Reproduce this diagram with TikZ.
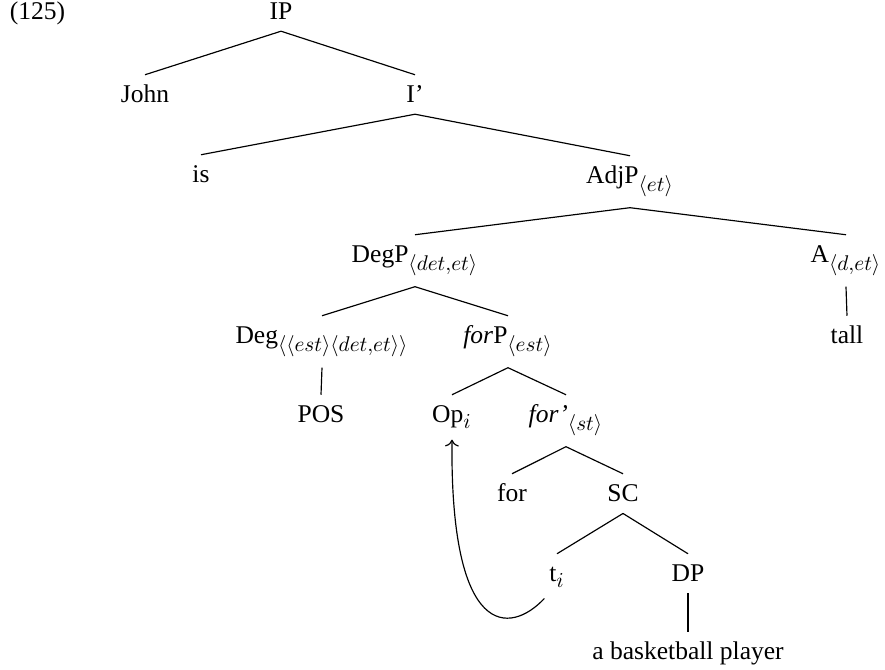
\documentclass[12pt,tikz,border=0pt]{standalone}
\usepackage{fontspec}
\setmainfont{LiberationSerif}[Extension=.ttf, UprightFont=*-Regular, ItalicFont=*-Italic, BoldFont=*-Bold]
\DeclareMathSizes{12}{12}{10}{7}
\usetikzlibrary{arrows.meta}

\begin{document}
\begin{tikzpicture}[x=0.47pt, y=-0.47pt, every node/.style={anchor=base, text height=8pt, inner ysep=5pt, inner xsep=2pt}, every path/.style={line width=0.55pt}]
    \useasboundingbox (0,0) rectangle (885,670);

    \node[anchor=base west] (num) at (5,20) {(125)};

    \node (IP) at (281,20) {IP};
    \node (John) at (145,103) {John};
    \node (Ibar) at (415,103) {I'};

    \node (is) at (201,183) {is};
    \node (AdjP) at (630,184) {AdjP$_{\langle et\rangle}$};

    \node (DegP) at (415,263) {DegP$_{\langle det,et\rangle}$};
    \node (A) at (846,263) {A$_{\langle d,et\rangle}$};

    \node (Deg) at (322,344) {Deg$_{\langle\langle est\rangle\langle det,et\rangle\rangle}$};
    \node (forP) at (508,344) {\textit{for}P$_{\langle est\rangle}$};
    \node (tall) at (847,344) {tall};

    \node (POS) at (321,423) {POS};
    \node (Op) at (452,423) {Op$_i$};
    \node (forbar) at (566,423) {\textit{for'}$_{\langle st\rangle}$};

    \node (for) at (512,502) {for};
    \node (SC) at (623,502) {SC};

    \node (ti) at (557,582) {t$_i$};
    \node (DP) at (688,582) {DP};

    \node (player) at (688,660) {a basketball player};

    \draw[] (IP.south) to (John.north);
    \draw[] (IP.south) to (Ibar.north);
    \draw[] (Ibar.south) to (is.north);
    \draw[] (Ibar.south) to (AdjP.north);
    \draw[] (AdjP.south) to (DegP.north);
    \draw[] (AdjP.south) to (A.north);
    \draw[] (A.south) to (tall.north);
    \draw[] (DegP.south) to (Deg.north);
    \draw[] (DegP.south) to (forP.north);
    \draw[] (Deg.south) to (POS.north);
    \draw[] (forP.south) to (Op.north);
    \draw[] (forP.south) to (forbar.north);
    \draw[] (forbar.south) to (for.north);
    \draw[] (forbar.south) to (SC.north);
    \draw[] (SC.south) to (ti.north);
    \draw[] (SC.south) to (DP.north);
    \draw[] (DP.south) to (player.north);

    % movement of the operator
    \draw[-{To[length=3.2pt,width=6.5pt]}] (ti.south west) .. controls (510,635) and (450,640) .. (Op.south);
\end{tikzpicture}
\end{document}
